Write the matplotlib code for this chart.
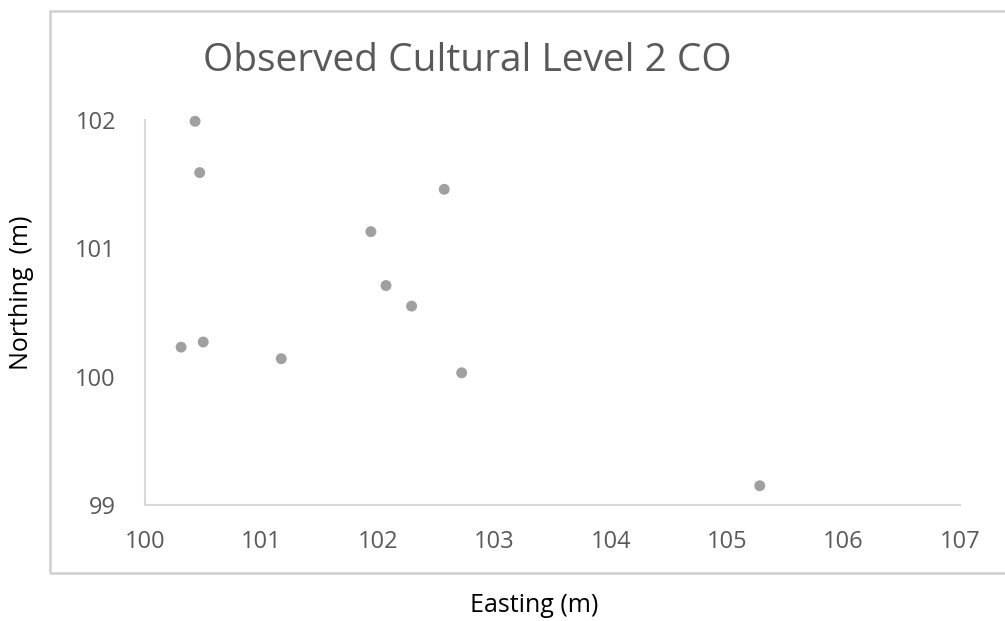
import matplotlib.pyplot as plt
from matplotlib.patches import Rectangle

plt.rcParams['font.family'] = ['Open Sans', 'DejaVu Sans']

# surveyed positions of the finds
easting = [100.43, 100.47, 102.57, 101.94, 102.07, 102.29, 100.31, 100.50, 101.17, 102.72, 105.28]
northing = [101.99, 101.59, 101.46, 101.13, 100.71, 100.55, 100.23, 100.27, 100.14, 100.03, 99.15]

x_ticks = [100, 101, 102, 103, 104, 105, 106, 107]
y_ticks = [99, 100, 101, 102]

W, H = 1005, 621
fig = plt.figure(figsize=(W / 100, H / 100), dpi=100)
ax = fig.add_axes([145 / W, 1 - 505 / H, (960 - 145) / W, (505 - 120) / H])

# outer chart border (open on the right side)
fig.patches.append(Rectangle((50 / W, 1 - 573 / H), 1.0, (573 - 11) / H,
                             transform=fig.transFigure, fill=False,
                             edgecolor='#d0d0d0', linewidth=1.8))

ax.scatter(easting, northing, s=62, color='#a0a0a0', edgecolors='none', clip_on=False, zorder=3)

ax.set_xlim(100, 107)
ax.set_ylim(99, 102)
ax.set_xticks(x_ticks)
ax.set_yticks(y_ticks)
ax.tick_params(length=0, labelsize=17, labelcolor='#595959')
ax.tick_params(axis='x', pad=18)
ax.tick_params(axis='y', pad=21)

for s in ['top', 'right']:
    ax.spines[s].set_visible(False)
for s in ['left', 'bottom']:
    ax.spines[s].set_color('#d9d9d9')
    ax.spines[s].set_linewidth(1.5)

fig.text(467 / W, 1 - 61 / H, 'Observed Cultural Level 2 CO', fontsize=28,
         color='#595959', ha='center', va='center')
fig.text(534 / W, 1 - 605 / H, 'Easting (m)', fontsize=18, color='black',
         ha='center', va='center')
fig.text(22 / W, 1 - 293 / H, 'Northing  (m)', fontsize=18, color='black',
         ha='center', va='center', rotation=90)

fig.savefig('out.png', dpi=100)
